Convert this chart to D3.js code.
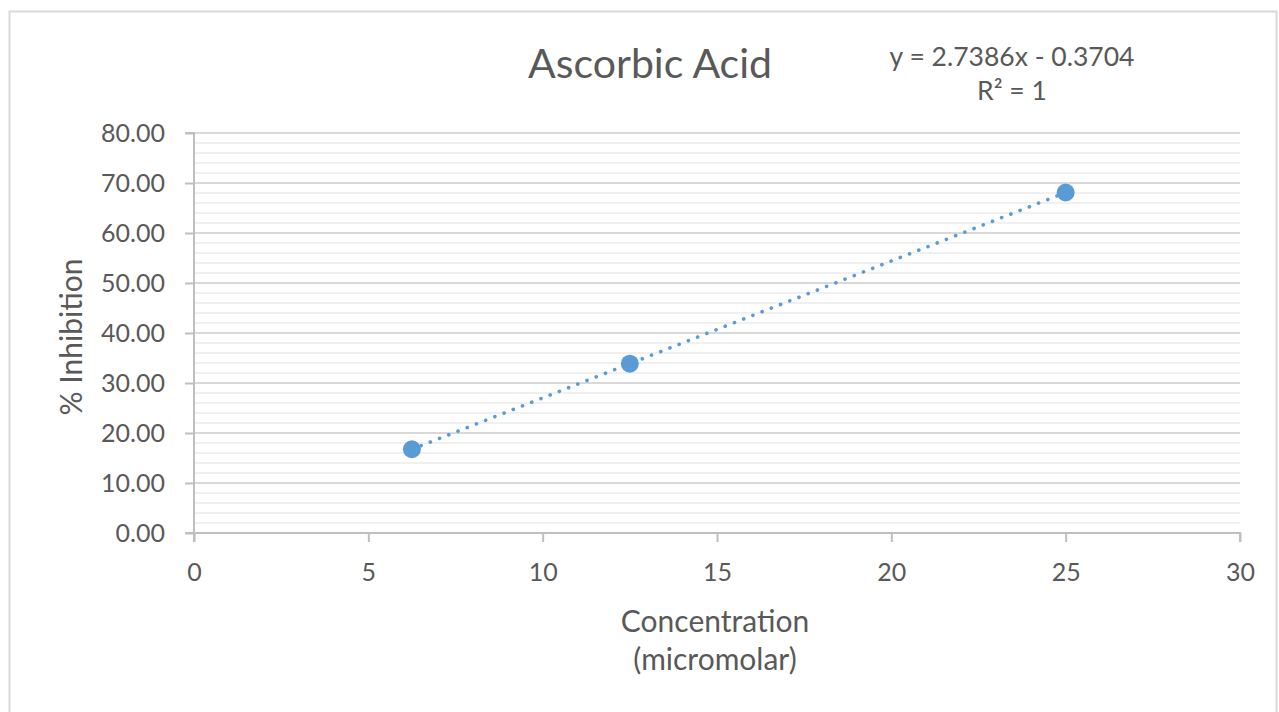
<!DOCTYPE html>
<html>
<head>
<meta charset="utf-8">
<script src="https://cdn.jsdelivr.net/npm/d3@7"></script>
<style>
  html, body { margin: 0; padding: 0; background: #fff; }
  svg { display: block; }
  text { font-family: Lato, "Open Sans", sans-serif; fill: #595959; }
</style>
</head>
<body>
<svg id="chart" width="1279" height="712"></svg>
<script>
// Concentration (micromolar) vs % inhibition
const concentration = [6.25, 12.5, 25];
const inhibition = [16.75, 33.86, 68.10];
const xTicks = [0, 5, 10, 15, 20, 25, 30];
const yTicks = [0, 10, 20, 30, 40, 50, 60, 70, 80];
const yMinorTicks = d3.range(0, 80.001, 2);
const slope = 2.7386, intercept = -0.3704, rSquared = 1;

const svg = d3.select("#chart");
const W = 1279, H = 712;
const plotLeft = 194, plotRight = 1240, plotTop = 133, plotBottom = 533;

// chart frame
svg.append("rect").attr("x", 9.5).attr("y", 11.5).attr("width", W - 12).attr("height", H)
  .attr("fill", "#fff").attr("stroke", "#d9d9d9").attr("stroke-width", 2);

const x = d3.scaleLinear().domain([0, 30]).range([plotLeft, plotRight]);
const y = d3.scaleLinear().domain([0, 80]).range([plotBottom, plotTop]);

// minor gridlines
svg.append("g").selectAll("line").data(yMinorTicks.filter(v => v % 10 !== 0)).join("line")
  .attr("x1", plotLeft).attr("x2", plotRight)
  .attr("y1", d => y(d)).attr("y2", d => y(d))
  .attr("stroke", "#f0f0f0").attr("stroke-width", 2);

// major gridlines
svg.append("g").selectAll("line").data(yTicks.filter(v => v > 0)).join("line")
  .attr("x1", plotLeft).attr("x2", plotRight)
  .attr("y1", d => y(d)).attr("y2", d => y(d))
  .attr("stroke", "#d9d9d9").attr("stroke-width", 2);

// y axis
const yAxis = svg.append("g").attr("transform", `translate(${plotLeft},0)`)
  .call(d3.axisLeft(y).tickValues(yTicks).tickFormat(d3.format(".2f")).tickSize(9).tickPadding(20));
// x axis
const xAxis = svg.append("g").attr("transform", `translate(0,${plotBottom})`)
  .call(d3.axisBottom(x).tickValues(xTicks).tickFormat(d3.format("d")).tickSize(9).tickPadding(21));

[yAxis, xAxis].forEach(g => {
  g.select(".domain").attr("stroke", "#bfbfbf").attr("stroke-width", 2);
  g.selectAll(".tick line").attr("stroke", "#bfbfbf").attr("stroke-width", 2);
  g.selectAll(".tick text").attr("fill", "#595959").style("font-size", "25px")
    .style("font-family", "Lato, 'Open Sans', sans-serif");
});
yAxis.select(".domain").attr("d", `M-9,${plotTop}H0V${plotBottom}H-9`);
xAxis.select(".domain").attr("d", `M${plotLeft},9V0H${plotRight}V9`);

// linear trendline over the data range
const x0 = d3.min(concentration), x1 = d3.max(concentration);
svg.append("line")
  .attr("x1", x(x0)).attr("y1", y(slope * x0 + intercept))
  .attr("x2", x(x1)).attr("y2", y(slope * x1 + intercept))
  .attr("stroke", "#5b9bd5").attr("stroke-width", 3.6)
  .attr("stroke-linecap", "round").attr("stroke-dasharray", "0.1 9.8");

// data markers
svg.append("g").selectAll("circle").data(concentration).join("circle")
  .attr("cx", d => x(d)).attr("cy", (d, i) => y(inhibition[i]))
  .attr("r", 9).attr("fill", "#5b9bd5");

// title
svg.append("text").attr("x", 650).attr("y", 78).attr("text-anchor", "middle")
  .style("font-size", "41px").text("Ascorbic Acid");

// trendline equation
const eq = svg.append("text").attr("text-anchor", "middle").style("font-size", "26.5px");
eq.append("tspan").attr("x", 1012).attr("y", 66)
  .text(`y = ${slope}x - ${Math.abs(intercept)}`);
eq.append("tspan").attr("x", 1012).attr("y", 100).text(`R² = ${rSquared}`);

// axis titles
svg.append("text").attr("transform", "translate(82,337) rotate(-90)")
  .attr("text-anchor", "middle").style("font-size", "30px").text("% Inhibition");
const xt = svg.append("text").attr("text-anchor", "middle").style("font-size", "30px");
xt.append("tspan").attr("x", 715).attr("y", 632).text("Concentration");
xt.append("tspan").attr("x", 715).attr("y", 670).text("(micromolar)");
</script>
</body>
</html>
